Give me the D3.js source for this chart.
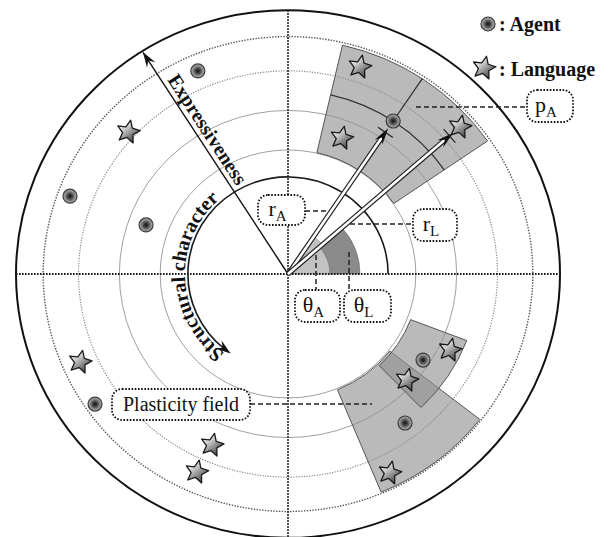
<!DOCTYPE html>
<html lang="en">
<head>
<meta charset="UTF-8" />
<title>Agents, languages and plasticity fields</title>
<style>
  body { margin: 0; background: #fff; }
  svg text { font-family: "Liberation Serif", "DejaVu Serif", serif; fill: #111; }
</style>
</head>
<body>
<div id="chart"></div>
<script src="https://d3js.org/d3.v7.min.js"></script>
<script>
// polar values: angle in degrees (counter-clockwise from the right), radius as share of the outer circle
const ringLevels = [0.47, 0.62, 0.77, 0.9, 1.0];

const agentAngles = [113.3, 159.8, 160.4, 214.8, 56.3, 326.7, 307.3];
const agentRadii  = [0.838, 0.854, 0.554, 0.864, 0.697, 0.594, 0.71];

const languageAngles = [137.5, 203.6, 246.7, 245.9, 71.4, 69.0, 41.4, 334.2, 317.4, 296.4];
const languageRadii  = [0.797, 0.834, 0.706, 0.822, 0.828, 0.552, 0.843, 0.662, 0.594, 0.842];

// plasticity fields: [from, to] angle, [inner, outer] radius
const fieldAngles = [[34.5, 77], [-67.5, -38], [-46, -21]];
const fieldRadii  = [[0.472, 0.89], [0.475, 0.895], [0.483, 0.704]];

const focusAgent = 4;      // p_A
const focusLanguage = 6;
const expressAngle = 122.4;
const structAngles = [0, 234];
const structLevel = 0.368;

const W = 608, H = 537;
const cx = 288, cy = 274, R = 272, ky = 0.97;
const rad = d3.scaleLinear().domain([0, 1]).range([0, R]);
const toRad = a => a * Math.PI / 180;
const pt = (a, v) => [cx + rad(v) * Math.cos(toRad(a)), cy - rad(v) * ky * Math.sin(toRad(a))];
// d3.arc counts clockwise from 12 o'clock
const arcAngle = a => toRad(90 - a);

const svg = d3.select("#chart").append("svg")
  .attr("width", W).attr("height", H);

const defs = svg.append("defs");
const ag = defs.append("radialGradient").attr("id", "agentFill");
[[0, "#111"], [0.35, "#444"], [0.7, "#8a8a8a"], [1, "#b0b0b0"]].forEach(s =>
  ag.append("stop").attr("offset", s[0]).attr("stop-color", s[1]));
const sg = defs.append("linearGradient").attr("id", "starFill")
  .attr("x1", 0).attr("y1", 0.1).attr("x2", 1).attr("y2", 0.9);
[[0, "#ffffff"], [0.35, "#d0d0d0"], [0.75, "#6a6a6a"], [1, "#333"]].forEach(s =>
  sg.append("stop").attr("offset", s[0]).attr("stop-color", s[1]));

const plane = svg.append("g")
  .attr("transform", `translate(${cx},${cy}) scale(1,${ky})`);

// rings
const ringStyle = [
  { stroke: "#a0a0a0", w: 1, dash: null },
  { stroke: "#a0a0a0", w: 1, dash: null },
  { stroke: "#888", w: 1.2, dash: "1.2,1.4" },
  { stroke: "#555", w: 1.4, dash: "1.4,1.4" },
  { stroke: "#111", w: 2, dash: null }
];
plane.selectAll("circle.ring")
  .data(ringLevels)
  .join("circle")
    .attr("class", "ring")
    .attr("r", d => rad(d))
    .attr("fill", "none")
    .attr("stroke", (d, i) => ringStyle[i].stroke)
    .attr("stroke-width", (d, i) => ringStyle[i].w)
    .attr("stroke-dasharray", (d, i) => ringStyle[i].dash)
    .attr("vector-effect", "non-scaling-stroke");

// dotted axes
svg.selectAll("line.axis")
  .data([[180, 0], [90, 270]])
  .join("line")
    .attr("x1", d => pt(d[0], 1)[0]).attr("y1", d => pt(d[0], 1)[1])
    .attr("x2", d => pt(d[1], 1)[0]).attr("y2", d => pt(d[1], 1)[1])
    .attr("stroke", "#1a1a1a")
    .attr("stroke-width", 2)
    .attr("stroke-dasharray", "1.6,1.4");

// plasticity fields
const arc = d3.arc();
plane.selectAll("path.field")
  .data(fieldAngles)
  .join("path")
    .attr("d", (d, i) => arc({
      innerRadius: rad(fieldRadii[i][0]), outerRadius: rad(fieldRadii[i][1]),
      startAngle: arcAngle(d[1]), endAngle: arcAngle(d[0])
    }))
    .attr("fill", "#8f8f8f")
    .attr("fill-opacity", 0.62)
    .attr("stroke", "#555")
    .attr("stroke-width", 1)
    .attr("vector-effect", "non-scaling-stroke");

// theta wedges
const aA = agentAngles[focusAgent], vA = agentRadii[focusAgent];
const aL = languageAngles[focusLanguage], vL = languageRadii[focusLanguage];
plane.append("path")
  .attr("d", arc({ innerRadius: 0, outerRadius: 46, startAngle: arcAngle(aA), endAngle: arcAngle(0) }))
  .attr("fill", "#c2c2c2").attr("stroke", "#888").attr("stroke-width", 0.6)
  .attr("vector-effect", "non-scaling-stroke");
plane.append("path")
  .attr("d", arc({ innerRadius: 42, outerRadius: 72, startAngle: arcAngle(aL), endAngle: arcAngle(0) }))
  .attr("fill", "#8a8a8a").attr("stroke", "#666").attr("stroke-width", 0.6)
  .attr("vector-effect", "non-scaling-stroke");

// p_A cross lines
const cross = d3.path();
cross.arc(0, 0, rad(vA), -toRad(fieldAngles[0][0]), -toRad(fieldAngles[0][1]), true);
plane.append("path").attr("d", cross.toString())
  .attr("fill", "none").attr("stroke", "#333").attr("stroke-width", 1.3)
  .attr("vector-effect", "non-scaling-stroke");
const pa0 = pt(aA, vA), pa1 = pt(aA, fieldRadii[0][1]);
svg.append("line")
  .attr("x1", pa0[0]).attr("y1", pa0[1]).attr("x2", pa1[0]).attr("y2", pa1[1])
  .attr("stroke", "#333").attr("stroke-width", 1.3);

function head(tip, from, len, wid) {
  const ang = Math.atan2(tip[1] - from[1], tip[0] - from[0]) * 180 / Math.PI;
  svg.append("path")
    .attr("d", `M0,0L${-len},${-wid}L${-len * 0.65},0L${-len},${wid}Z`)
    .attr("transform", `translate(${tip[0]},${tip[1]}) rotate(${ang})`)
    .attr("fill", "#111");
}

// structural character arrow along the inner circle
const sp = d3.path();
sp.arc(0, 0, rad(structLevel), -toRad(structAngles[0]), -toRad(structAngles[1] - 3), true);
plane.append("path").attr("d", sp.toString())
  .attr("fill", "none").attr("stroke", "#1a1a1a").attr("stroke-width", 1.6)
  .attr("vector-effect", "non-scaling-stroke");
head(pt(structAngles[1] + 1, structLevel), pt(structAngles[1] - 4, structLevel), 15, 5);

// expressiveness arrow
const eTip = pt(expressAngle, 0.995);
svg.append("line")
  .attr("x1", cx).attr("y1", cy).attr("x2", eTip[0]).attr("y2", eTip[1])
  .attr("stroke", "#111").attr("stroke-width", 1.4);
head(eTip, [cx, cy], 15, 5);

// r_A and r_L arrows (hollow shafts)
[[aA, vA], [aL, vL]].forEach(([a, v]) => {
  const tipV = v - 9 / R;
  const tip = pt(a, tipV);
  const base = pt(a, tipV - 10 / R);
  svg.append("line")
    .attr("x1", cx).attr("y1", cy).attr("x2", base[0]).attr("y2", base[1])
    .attr("stroke", "#222").attr("stroke-width", 5);
  svg.append("line")
    .attr("x1", cx).attr("y1", cy).attr("x2", base[0]).attr("y2", base[1])
    .attr("stroke", "#fff").attr("stroke-width", 2.6);
  head(tip, [cx, cy], 17, 4.5);
  const m = pt(a, tipV - 5 / R);
  const dx = tip[0] - cx, dy = tip[1] - cy, n = Math.hypot(dx, dy);
  const px = -dy / n * 9, py = dx / n * 9;
  svg.append("line")
    .attr("x1", m[0] - px).attr("y1", m[1] - py).attr("x2", m[0] + px).attr("y2", m[1] + py)
    .attr("stroke", "#222").attr("stroke-width", 1.2);
});

// marks
// five-pointed star, a little plumper than d3.symbolStar
function starPath(ro, ri) {
  const p = d3.path();
  for (let k = 0; k < 10; k++) {
    const r = k % 2 ? ri : ro, t = -Math.PI / 2 + k * Math.PI / 5;
    if (k === 0) p.moveTo(r * Math.cos(t), r * Math.sin(t));
    else p.lineTo(r * Math.cos(t), r * Math.sin(t));
  }
  p.closePath();
  return p.toString();
}
const starD = starPath(12, 5.6);
function drawStar(x, y) {
  svg.append("path")
    .attr("d", starD)
    .attr("transform", `translate(${x},${y}) rotate(12)`)
    .attr("fill", "url(#starFill)")
    .attr("stroke", "#1a1a1a")
    .attr("stroke-width", 1.3)
    .attr("stroke-linejoin", "round");
}
function drawAgent(x, y) {
  svg.append("circle")
    .attr("cx", x).attr("cy", y).attr("r", 7)
    .attr("fill", "url(#agentFill)")
    .attr("stroke", "#3a3a3a").attr("stroke-width", 1.2);
}
languageAngles.forEach((a, i) => { const p = pt(a, languageRadii[i]); drawStar(p[0], p[1]); });
agentAngles.forEach((a, i) => { const p = pt(a, agentRadii[i]); drawAgent(p[0], p[1]); });

// legend
drawAgent(488, 24);
drawStar(484, 68);
svg.append("text").attr("x", 499).attr("y", 31)
  .attr("font-size", 20).attr("font-weight", "bold").text(": Agent");
svg.append("text").attr("x", 499).attr("y", 76)
  .attr("font-size", 20).attr("font-weight", "bold").text(": Language");

// axis titles
const ePos = pt(expressAngle, 0.62);
const eAng = Math.atan2(cy - eTip[1], cx - eTip[0]) * 180 / Math.PI;
svg.append("text")
  .attr("transform", `translate(${ePos[0]},${ePos[1]}) rotate(${eAng})`)
  .attr("dy", -5)
  .attr("text-anchor", "middle")
  .attr("font-size", 20).attr("font-weight", "bold")
  .text("Expressiveness");

const tr = rad(structLevel) + 3;
const t0 = pt(232, (tr) / R), t1 = pt(112, tr / R);
defs.append("path").attr("id", "structPath")
  .attr("d", `M${t0[0]},${t0[1]}A${tr},${tr * ky} 0 0 1 ${t1[0]},${t1[1]}`);
svg.append("text")
  .attr("font-size", 20).attr("font-weight", "bold")
  .append("textPath").attr("href", "#structPath")
  .text("Structural character");

// annotation boxes with dashed leaders
const notes = [
  { x: 527, y: 90, w: 46, h: 32, main: "p", sub: "A", lead: [[416, 107], [527, 107]] },
  { x: 258, y: 195, w: 47, h: 30, main: "r", sub: "A", lead: [[305, 211], [326, 211]] },
  { x: 413, y: 209, w: 44, h: 32, main: "r", sub: "L", lead: [[350, 224], [413, 224]] },
  { x: 295, y: 290, w: 45, h: 32, main: "\u03b8", sub: "A", lead: [[316, 255], [316, 290]] },
  { x: 344, y: 290, w: 47, h: 32, main: "\u03b8", sub: "L", lead: [[349, 252], [349, 290]] },
  { x: 112, y: 389, w: 138, h: 31, main: "Plasticity field", sub: "", lead: [[250, 404], [372, 404]] }
];
notes.forEach(n => {
  svg.append("line")
    .attr("x1", n.lead[0][0]).attr("y1", n.lead[0][1])
    .attr("x2", n.lead[1][0]).attr("y2", n.lead[1][1])
    .attr("stroke", "#222").attr("stroke-width", 1.5)
    .attr("stroke-dasharray", "5,3");
  svg.append("rect")
    .attr("x", n.x).attr("y", n.y).attr("width", n.w).attr("height", n.h)
    .attr("rx", 10)
    .attr("fill", "#fff")
    .attr("stroke", "#111").attr("stroke-width", 1.8)
    .attr("stroke-dasharray", "1.6,1.6");
  const t = svg.append("text")
    .attr("x", n.x + n.w / 2 - (n.sub ? 4 : 0))
    .attr("y", n.y + n.h / 2 + 6)
    .attr("text-anchor", "middle")
    .attr("font-size", n.sub ? 22 : 20);
  t.append("tspan").text(n.main);
  if (n.sub) t.append("tspan").attr("dy", 5).attr("font-size", 15).text(n.sub);
});
</script>
</body>
</html>
